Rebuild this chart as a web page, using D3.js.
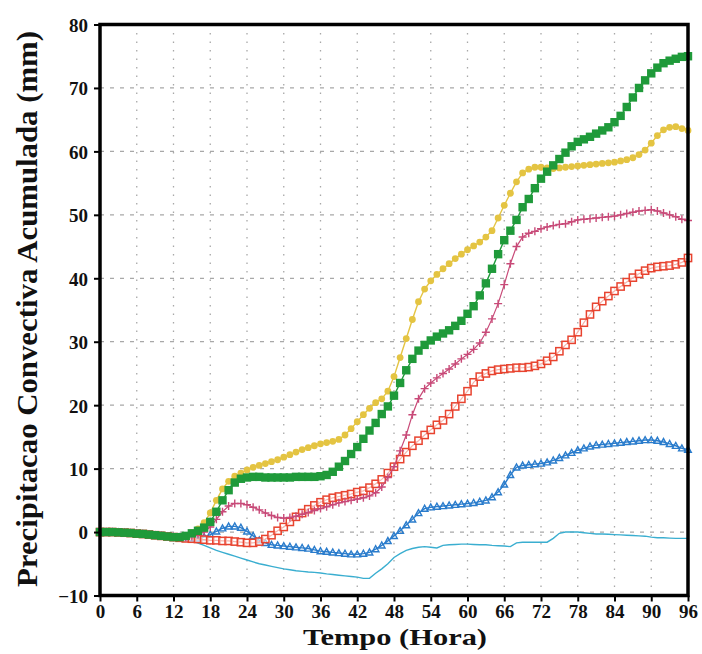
<!DOCTYPE html>
<html>
<head>
<meta charset="utf-8">
<script src="https://cdn.jsdelivr.net/npm/d3@7"></script>
<style>
  html, body { margin: 0; padding: 0; background: #fff; }
  svg { display: block; }
  text { font-family: "Liberation Serif", "DejaVu Serif", serif; font-weight: bold; fill: #111; }
</style>
</head>
<body>
<svg id="chart" width="702" height="654"></svg>
<script>
// Forecast hour of each sample
const hours = [
  0, 1, 2, 3, 4, 5, 6, 7, 8, 9, 10, 11, 12, 13, 14, 15, 16, 17, 18, 19,
  20, 21, 22, 23, 24, 25, 26, 27, 28, 29, 30, 31, 32, 33, 34, 35, 36, 37, 38, 39,
  40, 41, 42, 43, 44, 45, 46, 47, 48, 49, 50, 51, 52, 53, 54, 55, 56, 57, 58, 59,
  60, 61, 62, 63, 64, 65, 66, 67, 68, 69, 70, 71, 72, 73, 74, 75, 76, 77, 78, 79,
  80, 81, 82, 83, 84, 85, 86, 87, 88, 89, 90, 91, 92, 93, 94, 95, 96
];

// Accumulated convective precipitation (mm), one value per hour
const seriesGreen = [
  0, 0, 0, -0.05, -0.1, -0.15, -0.25, -0.3, -0.4, -0.5, -0.6, -0.7, -0.8, -0.8, -0.6, -0.2, 0.2, 0.7, 1.6, 3.2,
  5.0, 6.6, 7.8, 8.4, 8.6, 8.7, 8.7, 8.6, 8.6, 8.6, 8.6, 8.6, 8.7, 8.7, 8.7, 8.7, 8.8, 9.0, 9.5, 10.3,
  11.2, 12.3, 13.4, 14.7, 16.0, 17.2, 18.6, 19.8, 21.5, 23.5, 25.5, 27.3, 28.6, 29.5, 30.2, 30.8, 31.3, 31.8, 32.5, 33.3,
  34.4, 35.6, 37.3, 39.2, 41.5, 43.8, 46.0, 47.5, 49.2, 51.2, 52.5, 54.2, 55.7, 56.8, 57.8, 58.8, 59.8, 60.8, 61.5, 61.9,
  62.3, 62.8, 63.3, 63.8, 64.6, 65.6, 67.0, 68.5, 70.0, 71.2, 72.3, 73.2, 73.9, 74.3, 74.6, 74.9, 75.0
];
const seriesYellow = [
  0, 0, 0, -0.05, -0.1, -0.15, -0.25, -0.3, -0.4, -0.5, -0.6, -0.7, -0.8, -0.8, -0.6, -0.1, 0.5, 1.5, 3.0, 5.0,
  6.8, 8.0, 8.8, 9.3, 9.8, 10.2, 10.5, 10.8, 11.1, 11.4, 11.8, 12.2, 12.6, 13.0, 13.3, 13.6, 13.9, 14.1, 14.3, 14.6,
  15.3, 16.3, 17.4, 18.5, 19.5, 20.4, 21.0, 22.2, 24.5, 27.5, 30.5, 33.5, 36.3, 38.3, 39.6, 40.6, 41.5, 42.3, 43.1, 43.8,
  44.5, 45.1, 45.7, 46.5, 47.5, 49.5, 51.5, 53.4, 55.2, 56.6, 57.2, 57.5, 57.5, 57.4, 57.3, 57.4, 57.5, 57.6, 57.7, 57.8,
  57.9, 58.0, 58.1, 58.2, 58.3, 58.5, 58.7, 59.0, 59.5, 60.2, 61.3, 62.5, 63.4, 63.8, 63.9, 63.6, 63.3
];
const seriesPink = [
  0, 0, 0, -0.05, -0.1, -0.15, -0.25, -0.3, -0.4, -0.5, -0.6, -0.7, -0.8, -0.85, -0.8, -0.7, -0.4, 0, 0.8, 2.0,
  3.2, 4.1, 4.5, 4.5, 4.3, 3.9, 3.5, 3.0, 2.6, 2.3, 2.2, 2.3, 2.5, 2.8, 3.1, 3.4, 3.7, 4.0, 4.3, 4.6,
  4.8, 5.0, 5.2, 5.4, 5.7, 6.2, 7.1, 8.6, 10.3, 12.8, 15.3, 18.5, 21.0, 22.6, 23.5, 24.3, 25.0, 25.7, 26.5, 27.3,
  28.0, 28.8, 29.8, 31.5, 33.6, 36.0, 39.0, 42.3, 45.0, 46.5, 47.1, 47.4, 47.8, 48.1, 48.3, 48.5, 48.6, 48.9, 49.2, 49.3,
  49.4, 49.5, 49.6, 49.7, 49.8, 50.0, 50.2, 50.4, 50.6, 50.7, 50.8, 50.6, 50.3, 50.0, 49.7, 49.3, 49.1
];
const seriesRed = [
  0, 0, 0, -0.05, -0.1, -0.15, -0.25, -0.3, -0.4, -0.5, -0.6, -0.7, -0.8, -0.9, -1.0, -1.05, -1.1, -1.2, -1.3, -1.3,
  -1.4, -1.4, -1.5, -1.6, -1.7, -1.7, -1.5, -1.1, -0.5, 0.2, 0.8, 1.6, 2.4, 3.0, 3.6, 4.2, 4.7, 5.1, 5.4, 5.6,
  5.8, 6.0, 6.3, 6.5, 7.0, 7.6, 8.3, 9.3, 10.3, 11.5, 12.6, 13.6, 14.4, 15.3, 16.1, 16.9, 17.6, 18.6, 19.8, 21.0,
  22.2, 23.6, 24.5, 25.0, 25.4, 25.6, 25.7, 25.8, 25.9, 25.9, 26.0, 26.2, 26.5, 27.0, 27.6, 28.5, 29.5, 30.3, 31.5, 33.0,
  34.3, 35.5, 36.4, 37.2, 38.0, 38.7, 39.4, 40.1, 40.7, 41.2, 41.6, 41.8, 41.9, 42.0, 42.2, 42.5, 43.2
];
const seriesBlue = [
  0, 0, 0, -0.05, -0.1, -0.15, -0.25, -0.3, -0.4, -0.5, -0.6, -0.7, -0.8, -0.85, -0.95, -1.0, -1.0, -0.8, -0.4, 0.1,
  0.6, 0.9, 0.9, 0.7, 0.1, -0.6, -1.3, -1.7, -2.0, -2.1, -2.2, -2.3, -2.4, -2.5, -2.6, -2.8, -3.0, -3.1, -3.2, -3.3,
  -3.4, -3.5, -3.5, -3.4, -3.2, -2.7, -2.1, -1.4, -0.6, 0.2, 1.1, 2.0, 3.0, 3.7, 3.9, 4.0, 4.1, 4.2, 4.3, 4.4,
  4.5, 4.6, 4.8, 5.0, 5.5, 6.3, 7.5, 9.0, 10.2, 10.5, 10.6, 10.7, 10.8, 11.0, 11.3, 11.7, 12.1, 12.5, 12.9, 13.2,
  13.5, 13.7, 13.8, 13.9, 14.0, 14.1, 14.2, 14.3, 14.4, 14.5, 14.5, 14.4, 14.2, 13.9, 13.6, 13.2, 13.0
];
const seriesCyan = [
  0, 0, 0, -0.05, -0.1, -0.15, -0.25, -0.3, -0.4, -0.5, -0.6, -0.7, -0.8, -0.95, -1.1, -1.4, -1.75, -2.1, -2.5, -2.9,
  -3.2, -3.5, -3.8, -4.1, -4.4, -4.7, -5.0, -5.2, -5.4, -5.6, -5.8, -5.95, -6.1, -6.2, -6.3, -6.35, -6.45, -6.6, -6.7, -6.8,
  -6.9, -7.0, -7.1, -7.3, -7.3, -6.5, -5.8, -5.0, -4.0, -3.4, -2.9, -2.6, -2.4, -2.3, -2.4, -2.5, -2.1, -2.0, -1.95, -1.9,
  -1.9, -1.95, -2.0, -2.0, -2.1, -2.15, -2.2, -2.3, -1.7, -1.6, -1.6, -1.6, -1.6, -1.6, -1.0, -0.2, 0, 0, 0, -0.1,
  -0.2, -0.3, -0.3, -0.35, -0.4, -0.45, -0.5, -0.55, -0.6, -0.65, -0.8, -0.9, -0.9, -0.95, -1.0, -1.0, -1.0
];

// Axis ticks and titles
const xTicks = [0, 6, 12, 18, 24, 30, 36, 42, 48, 54, 60, 66, 72, 78, 84, 90, 96];
const yTicks = [-10, 0, 10, 20, 30, 40, 50, 60, 70, 80];
const xTitle = "Tempo (Hora)";
const yTitle = "Precipitacao Convectiva Acumulada (mm)";

const svg = d3.select("#chart");
const plot = { left: 100, right: 688, top: 24.5, bottom: 595.5 };

const x = d3.scaleLinear().domain([0, 96]).range([plot.left, plot.right]);
const y = d3.scaleLinear().domain([-10, 80]).range([plot.bottom, plot.top]);

// Grid
const grid = svg.append("g");
grid.selectAll("line.v").data(xTicks.slice(1, -1)).join("line")
  .attr("x1", d => x(d)).attr("x2", d => x(d))
  .attr("y1", plot.top).attr("y2", plot.bottom)
  .attr("stroke", "#a8a8a8").attr("stroke-width", 1.3)
  .attr("stroke-dasharray", "1.5,7");
grid.selectAll("line.h").data(yTicks.slice(1, -1)).join("line")
  .attr("x1", plot.left).attr("x2", plot.right)
  .attr("y1", d => y(d)).attr("y2", d => y(d))
  .attr("stroke", "#a8a8a8").attr("stroke-width", 1.3)
  .attr("stroke-dasharray", "4,6");

// Series definitions: colour and marker type
const series = [
  { values: seriesCyan,   color: "#3aaed0", marker: "none",     lw: 1.4 },
  { values: seriesBlue,   color: "#2a7ccc", marker: "triangle", lw: 1.4 },
  { values: seriesRed,    color: "#e8432f", marker: "square",   lw: 1.2 },
  { values: seriesPink,   color: "#c84a78", marker: "plus",     lw: 1.2 },
  { values: seriesYellow, color: "#e4c442", marker: "circle",   lw: 1.4 },
  { values: seriesGreen,  color: "#1f9a3a", marker: "fsquare",  lw: 1.4 }
];

const line = d3.line().x((d, i) => x(hours[i])).y(d => y(d));

const marks = svg.append("g");
series.forEach(s => {
  const g = marks.append("g");
  g.append("path").datum(s.values)
    .attr("d", line).attr("fill", "none")
    .attr("stroke", s.color).attr("stroke-width", s.lw);
  const pts = s.values.map((v, i) => [x(hours[i]), y(v)]);
  if (s.marker === "fsquare") {
    g.selectAll("rect").data(pts).join("rect")
      .attr("x", d => d[0] - 4.2).attr("y", d => d[1] - 4.2)
      .attr("width", 8.4).attr("height", 8.4).attr("fill", s.color);
  } else if (s.marker === "square") {
    g.selectAll("rect").data(pts).join("rect")
      .attr("x", d => d[0] - 3.6).attr("y", d => d[1] - 3.6)
      .attr("width", 7.2).attr("height", 7.2)
      .attr("fill", "#fff").attr("fill-opacity", 0.6)
      .attr("stroke", s.color).attr("stroke-width", 1.5);
  } else if (s.marker === "circle") {
    g.selectAll("circle").data(pts).join("circle")
      .attr("cx", d => d[0]).attr("cy", d => d[1]).attr("r", 3.4)
      .attr("fill", s.color);
  } else if (s.marker === "plus") {
    g.selectAll("path.m").data(pts).join("path").attr("class", "m")
      .attr("d", d => `M${d[0] - 4},${d[1]}H${d[0] + 4}M${d[0]},${d[1] - 4}V${d[1] + 4}`)
      .attr("stroke", s.color).attr("stroke-width", 1.4).attr("fill", "none");
  } else if (s.marker === "triangle") {
    g.selectAll("path.m").data(pts).join("path").attr("class", "m")
      .attr("d", d => `M${d[0] - 3.3},${d[1] + 2.6}L${d[0]},${d[1] - 3.4}L${d[0] + 3.3},${d[1] + 2.6}Z`)
      .attr("stroke", s.color).attr("stroke-width", 1.4).attr("fill", "none");
  }
});

// Axes with outward ticks
const xAxis = svg.append("g").attr("transform", `translate(0,${plot.bottom})`)
  .call(d3.axisBottom(x).tickValues(xTicks).tickSize(6).tickPadding(5).tickFormat(d3.format("d")));
const yAxis = svg.append("g").attr("transform", `translate(${plot.left},0)`)
  .call(d3.axisLeft(y).tickValues(yTicks).tickSize(6).tickPadding(6)
    .tickFormat(d => d < 0 ? "\u2212" + Math.abs(d) : String(d)));
[xAxis, yAxis].forEach(a => {
  a.select(".domain").remove();
  a.selectAll(".tick line").attr("stroke", "#000").attr("stroke-width", 2);
  a.selectAll(".tick text").attr("fill", "#111").style("font-size", "19px")
    .style("font-family", "'Liberation Serif', serif").style("font-weight", "bold");
});
xAxis.selectAll(".tick text").attr("dy", null).attr("y", 22.5);
yAxis.selectAll(".tick text").attr("dy", "0.36em");

// Frame
svg.append("rect")
  .attr("x", plot.left).attr("y", plot.top)
  .attr("width", plot.right - plot.left).attr("height", plot.bottom - plot.top)
  .attr("fill", "none").attr("stroke", "#000").attr("stroke-width", 3.5);

// Titles
svg.append("text")
  .attr("x", 395).attr("y", 645).attr("text-anchor", "middle")
  .style("font-size", "24px")
  .attr("textLength", 184).attr("lengthAdjust", "spacingAndGlyphs")
  .text(xTitle);
svg.append("text")
  .attr("transform", "translate(37,309) rotate(-90)")
  .attr("text-anchor", "middle")
  .style("font-size", "29px")
  .attr("textLength", 556).attr("lengthAdjust", "spacingAndGlyphs")
  .text(yTitle);
</script>
</body>
</html>
